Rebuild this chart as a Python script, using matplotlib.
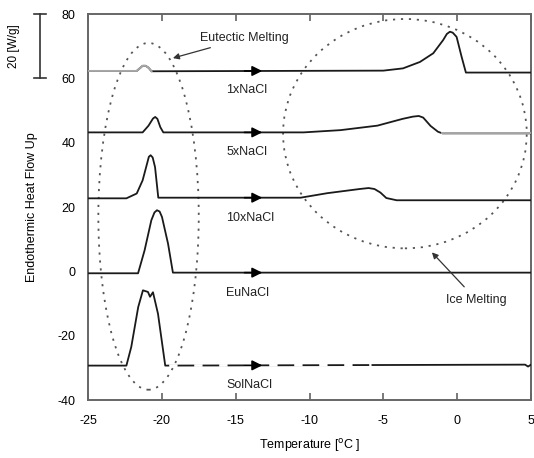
import numpy as np
import matplotlib
matplotlib.use('Agg')
import matplotlib.pyplot as plt
from matplotlib.patches import Ellipse
from matplotlib.transforms import blended_transform_factory

plt.rcParams['font.family'] = ['Liberation Sans', 'DejaVu Sans']
plt.rcParams['axes.unicode_minus'] = False

# Curvas DSC (temperatura en C, flujo en W/g desplazado)
t_1x = [-25, -21.7, -21.5, -21.3, -21.1, -20.9, -20.7, -5.0, -3.67, -2.52, -1.62,
        -0.95, -0.7, -0.49, -0.3, -0.04, 0.30, 0.59, 5]
v_1x = [62.3, 62.3, 63.1, 63.9, 63.9, 63.3, 62.2, 62.4, 63.1, 65.1, 67.8,
        71.9, 73.8, 74.5, 74.2, 72.9, 66.7, 61.8, 61.8]

t_5x = [-25, -21.3, -20.9, -20.6, -20.45, -20.3, -20.1, -19.9, -10.4, -7.9, -5.4,
        -3.7, -3.0, -2.6, -2.3, -1.8, -1.3, -1.0, 5]
v_5x = [43.2, 43.2, 45.3, 47.5, 48.0, 47.4, 44.8, 43.2, 43.2, 43.9, 45.3,
        47.4, 48.1, 48.3, 47.8, 45.2, 43.4, 42.9, 42.9]

t_10x = [-25, -22.4, -21.7, -21.3, -21.0, -20.88, -20.76, -20.62, -20.46, -20.24,
         -10.6, -8.8, -6.6, -6.0, -5.6, -5.2, -4.8, -4.1, 5]
v_10x = [22.7, 22.7, 24.2, 28.3, 33.5, 35.6, 36.1, 35.4, 32.4, 22.9,
         22.9, 24.3, 25.6, 25.9, 25.6, 24.5, 22.8, 22.1, 22.1]

t_eu = [-25, -21.61, -21.17, -20.71, -20.5, -20.33, -20.15, -19.99, -19.58, -19.25, 5]
v_eu = [-0.6, -0.6, 6.5, 15.9, 18.3, 19.0, 18.6, 16.9, 8.6, -0.4, -0.4]

t_sol = [-25, -22.4, -22.07, -21.6, -21.28, -20.94, -20.8, -20.6, -20.26, -19.77, 4.6, 4.8, 5]
v_sol = [-29.3, -29.3, -23.5, -11.1, -5.9, -6.4, -7.9, -6.5, -13.2, -29.3, -29.0, -29.6, -29.0]

nombres = ['1xNaCl', '5xNaCl', '10xNaCl', 'EuNaCl', 'SolNaCl']
curvas = [(t_1x, v_1x), (t_5x, v_5x), (t_10x, v_10x), (t_eu, v_eu), (t_sol, v_sol)]

fig = plt.figure(figsize=(5.34, 4.58), dpi=100)
ax = fig.add_axes([0.1648, 0.1266, 0.8296, 0.8428])

oscuro = '#1a1a1a'
claro = '#a8a8a8'

for nombre, (t, v) in zip(nombres, curvas):
    t = np.array(t)
    v = np.array(v)
    ax.plot(t, v, color=oscuro, lw=1.3, zorder=3, solid_joinstyle='round')
    # tramos mas claros como en el original
    if nombre == '1xNaCl':
        m = t <= -19.3
        ax.plot(t[m], v[m], color=claro, lw=1.4, zorder=4)
    if nombre == '5xNaCl':
        m = t >= -1.0
        ax.plot(t[m], v[m], color=claro, lw=1.4, zorder=4)
    if nombre == 'SolNaCl':
        tt = np.linspace(-19.5, -5.8, 200)
        ax.plot(tt, np.interp(tt, t, v), color='white', lw=2.0, zorder=4,
                dashes=(3, 6))
    # flecha de direccion de barrido
    y = np.interp(-13.45, t, v)
    ax.annotate('', xy=(-13.2, y), xytext=(-14.4, y),
                arrowprops=dict(arrowstyle='-|>', color='black', lw=1.2,
                                mutation_scale=15, shrinkA=0, shrinkB=0),
                zorder=5)
    ax.text(-15.65, v[0] - 6, nombre, fontsize=9, ha='left', va='center',
            color='#222222')

# elipse y circulo punteados
ax.add_patch(Ellipse((-20.9, 17.1), 6.8, 107.8, fill=False, color='#555555',
                     lw=1.3, linestyle=(0, (1.2, 3.2)), zorder=2))
ax.add_patch(Ellipse((-3.54, 42.8), 16.5, 71.3, fill=False, color='#555555',
                     lw=1.3, linestyle=(0, (1.2, 3.2)), zorder=2))

ax.annotate('Eutectic Melting', xy=(-19.25, 66.3), xytext=(-17.4, 72.5),
            fontsize=9, ha='left', va='center', color='#222222',
            arrowprops=dict(arrowstyle='-|>', color='#333333', lw=0.9,
                            mutation_scale=9, shrinkA=2, shrinkB=0))
ax.annotate('Ice Melting', xy=(-1.71, 5.9), xytext=(-0.76, -8.8),
            fontsize=9, ha='left', va='center', color='#222222',
            arrowprops=dict(arrowstyle='-|>', color='#333333', lw=0.9,
                            mutation_scale=9, shrinkA=4, shrinkB=0))

ax.set_xlim(-25, 5)
ax.set_ylim(-40, 80)
ax.set_xticks([-25, -20, -15, -10, -5, 0, 5])
ax.set_yticks([-40, -20, 0, 20, 40, 60, 80])
ax.tick_params(axis='x', direction='in', length=5, width=1.1, color='#555555',
               top=True, labelsize=9, pad=11)
ax.tick_params(axis='y', length=0, labelsize=9, pad=9)
for s in ax.spines.values():
    s.set_color('#666666')
    s.set_linewidth(1.4)

ax.set_xlabel('Temperature [$^{\\rm o}$C ]', fontsize=9)
ax.xaxis.set_label_coords(0.5, -0.095)
ax.xaxis.label.set_va('top')
ax.set_ylabel('Endothermic Heat Flow Up', fontsize=9)
ax.yaxis.set_label_coords(-0.112, 0.5)

# barra de escala 20 W/g
tr = blended_transform_factory(ax.transAxes, ax.transData)
xb = -0.108
ax.plot([xb, xb], [60, 80], color='#333333', lw=1.2, transform=tr, clip_on=False)
for yb in [60, 80]:
    ax.plot([xb - 0.013, xb + 0.013], [yb, yb], color='#333333', lw=1.2,
            transform=tr, clip_on=False)
ax.text(-0.168, 70, '20 [W/g]', rotation=90, fontsize=8.5, ha='center',
        va='center', transform=tr)

plt.savefig('out.png', dpi=100)
